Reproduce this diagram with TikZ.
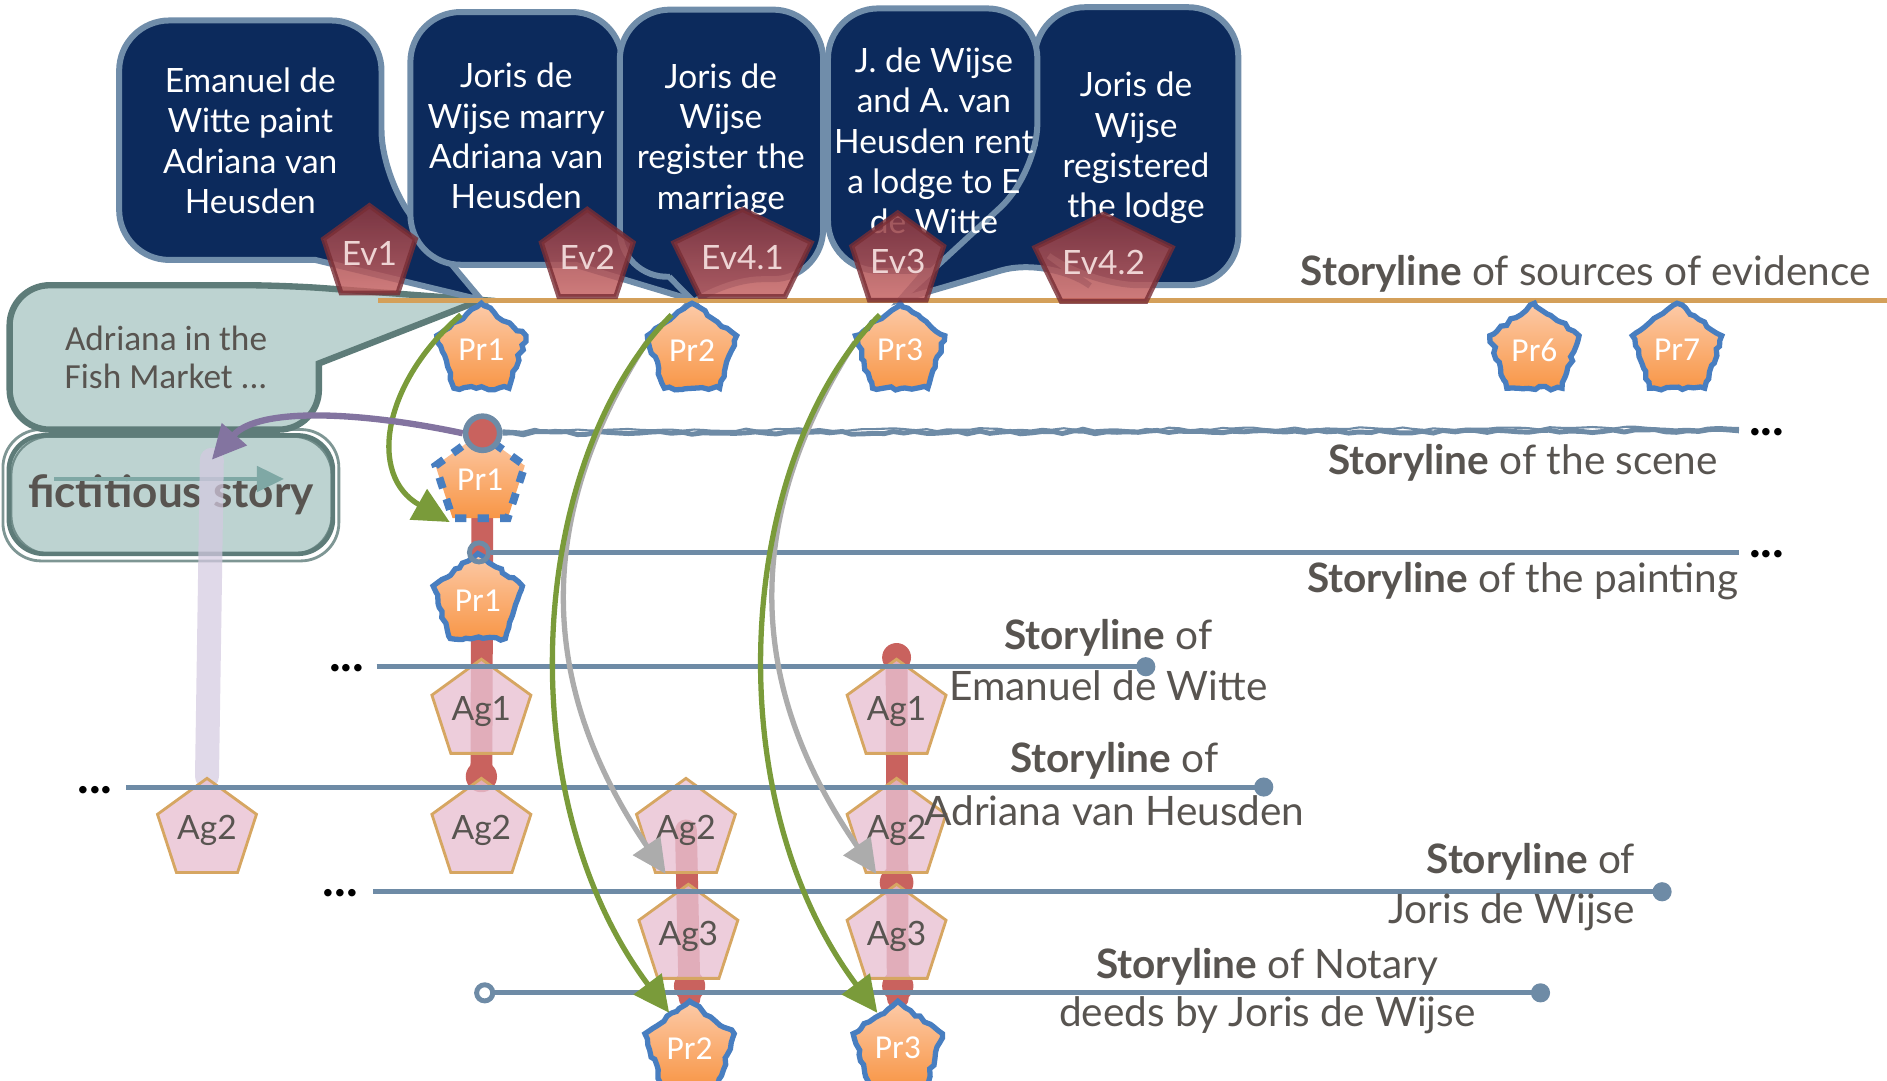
\documentclass[tikz,border=0pt]{standalone}
\usepackage{graphicx}
\usepackage{fontspec}
\setmainfont{Lato}
\newfontfamily\prfont{Carlito}
\usetikzlibrary{positioning}
\usetikzlibrary{shapes.geometric}
\usetikzlibrary{arrows.meta}
\usetikzlibrary{decorations.pathmorphing}
\usetikzlibrary{backgrounds}
\usetikzlibrary{calc}

\definecolor{navy}{RGB}{12,42,92}
\definecolor{cborder}{RGB}{112,141,170}
\definecolor{orangeline}{RGB}{212,160,90}
\definecolor{sblue}{RGB}{110,139,166}
\definecolor{textgrey}{RGB}{88,84,80}
\definecolor{evtop}{RGB}{140,55,62}
\definecolor{evbot}{RGB}{198,100,100}
\definecolor{evborder}{RGB}{120,45,52}
\definecolor{evtext}{RGB}{238,212,212}
\definecolor{agpink}{RGB}{232,192,210}
\definecolor{agborder}{RGB}{214,166,98}
\definecolor{prtop}{RGB}{252,202,168}
\definecolor{prbot}{RGB}{248,150,70}
\definecolor{prblue}{RGB}{72,126,192}
\definecolor{tealfill}{RGB}{189,211,209}
\definecolor{tealdark}{RGB}{94,124,121}
\definecolor{tealarrow}{RGB}{127,168,165}
\definecolor{redchain}{RGB}{201,98,94}
\definecolor{lavender}{RGB}{212,202,225}
\definecolor{purplearr}{RGB}{131,116,160}
\definecolor{greenarr}{RGB}{122,155,58}
\definecolor{greyarr}{RGB}{172,172,172}

\begin{document}
\begin{tikzpicture}[x=0.012cm, y=-0.012cm,
prnode/.style={regular polygon, regular polygon sides=5, minimum size=0.936cm, inner sep=0pt,
  top color=prtop, bottom color=prbot, draw=prblue, line width=1.5pt,
  decorate, decoration={random steps, segment length=1.6pt, amplitude=0.5pt},
  text=white, font=\prfont\fontsize{9.5}{10}\selectfont},
prdash/.style={regular polygon, regular polygon sides=5, minimum size=0.936cm, inner sep=0pt,
  top color=prtop, bottom color=prbot, draw=prblue, line width=2.2pt, dash pattern=on 3.2pt off 3.2pt,
  text=white, font=\prfont\fontsize{9.5}{10}\selectfont},
agnode/.style={regular polygon, regular polygon sides=5, minimum size=0.888cm, inner sep=0pt,
  fill=agpink, fill opacity=0.8, text opacity=1, draw=agborder, line width=0.8pt,
  text=textgrey, font=\fontsize{9.5}{10}\selectfont},
evnode/.style={regular polygon, regular polygon sides=5, minimum size=0.912cm, inner sep=0pt,
  top color=evtop, bottom color=evbot, fill opacity=0.85, text opacity=1,
  draw=evborder, draw opacity=0.8, line width=1.4pt,
  text=evtext, font=\fontsize{9.5}{10}\selectfont},
ctext/.style={text=white, align=center, font=\fontsize{9.5}{11.4}\selectfont},
cshape/.style={rounded corners=0.5cm, fill=navy, draw=cborder, line width=1.7pt},
fishshape/.style={rounded corners=0.4cm, fill=tealfill, draw=tealdark, line width=1.8pt},
fishtext/.style={text=textgrey, align=center, font=\prfont\fontsize{10}{10.6}\selectfont},
fictbox/.style={minimum width=3.23cm, minimum height=1.18cm, rounded corners=0.35cm, inner sep=0pt,
  fill=tealfill, draw=tealdark, line width=1.3pt,
  text=textgrey, font=\bfseries\fontsize{12.5}{13}\selectfont},
roughedge/.style={draw=tealdark, line width=0.8pt, rounded corners=0.38cm, opacity=0.8},
slabel/.style={text=textgrey, inner sep=0pt, font=\fontsize{11.5}{14}\selectfont},
sline/.style={draw=sblue, line width=1.4pt},
rough/.style={decorate, decoration={random steps, segment length=3pt, amplitude=0.45pt}},
dotend/.style={-{Circle[length=0.19cm]}},
dots/.style={anchor=base, inner sep=0pt, font=\bfseries\fontsize{14}{14}\selectfont},
chain/.style={draw=redchain, line width=6.2pt, line cap=round},
lav/.style={draw=lavender, line width=6.8pt, line cap=round, opacity=0.72},
garrow/.style={draw=greenarr, line width=1.5pt, -{Triangle[length=0.36cm, width=0.34cm]}},
grarrow/.style={draw=greyarr, line width=1.5pt, -{Triangle[length=0.34cm, width=0.32cm]}},
parrow/.style={draw=purplearr, line width=1.8pt, -{Triangle[length=0.34cm, width=0.32cm]}},
tarrow/.style={draw=tealarrow, line width=1.3pt, -{Triangle[length=0.27cm, width=0.25cm]}}
]
\pgfmathsetseed{7}
\useasboundingbox (0,0) rectangle (1568,898);

%Coordinates
\coordinate (srcL) at (314,250);
\coordinate (srcR) at (1568,250);
\coordinate (sceneR) at (1445,358);
\coordinate (paintR) at (1445,459);
\coordinate (witteL) at (313,554);
\coordinate (witteR) at (960,554);
\coordinate (adrL) at (105,654);
\coordinate (adrR) at (1058,654);
\coordinate (jorisL) at (310,741);
\coordinate (jorisR) at (1389,741);
\coordinate (notL) at (394,825);
\coordinate (notR) at (1288,825);
\coordinate (lavtop) at (176,382);
\coordinate (fa) at (45,398);
\coordinate (fb) at (236,398);

%Storyline of sources
\draw[draw=orangeline, line width=1.4pt] (srcL) -- (srcR);

%Nodes
\node[prnode]        (pr1)     at (400,291)     {Pr1};
\node[prnode]        (pr2)     at (575,291)     {Pr2};
\node[prnode]        (pr3)     at (748,291)     {Pr3};
\node[prnode]        (pr6)     at (1275,291)    {Pr6};
\node[prnode]        (pr7)     [right=0.57cm of pr6]   {Pr7};
\node[prdash]        (pr1s)    at (399,399)     {Pr1};
\node[prnode]        (pr1p)    at (397,499)     {Pr1};
\node[prnode]        (pr2n)    at (573,871)     {Pr2};
\node[prnode]        (pr3n)    at (746,871)     {Pr3};

\node[agnode]        (ag2l)    at (172,690)     {Ag2};
\node[agnode]        (ag1a)    at (400,591)     {Ag1};
\node[agnode]        (ag2a)    at (400,690)     {Ag2};
\node[agnode]        (ag2b)    at (570,690)     {Ag2};
\node[agnode]        (ag3b)    at (572,778)     {Ag3};
\node[agnode]        (ag1c)    at (745,591)     {Ag1};
\node[agnode]        (ag2c)    at (745,690)     {Ag2};
\node[agnode]        (ag3c)    at (745,778)     {Ag3};

\node[circle, minimum size=0.34cm, inner sep=0pt, fill=redchain, draw=sblue, line width=1.6pt] (scirc) at (401,360) {};
\node[circle, minimum size=0.19cm, inner sep=0pt, draw=sblue, line width=1.4pt] (pcirc) at (398,459) {};

%Storylines
\draw[sline, rough] (scirc.east) -- (sceneR);
\draw[sline, line width=0.6pt, rough] ([yshift=0.8pt]scirc.east) -- ([yshift=0.8pt]sceneR);
\draw[sline] (pcirc.east) -- (paintR);
\draw[sline, dotend] (witteL) -- (witteR);
\draw[sline, dotend] (adrL) -- (adrR);
\draw[sline, dotend] (jorisL) -- (jorisR);
\draw[sline, {Circle[open, fill=white, length=0.21cm]}-{Circle[length=0.19cm]}] (notL) -- (notR);

%Labels
\node[slabel, anchor=base east] (labsrc)   at (1555,237) {\textbf{Storyline} of sources of evidence};
\node[slabel, anchor=base east] (labscene) at (1428,394) {\textbf{Storyline} of the scene};
\node[slabel, anchor=base east] (labpaint) at (1445,492) {\textbf{Storyline} of the painting};
\node[slabel, anchor=base] (labwa) at (921,540) {\textbf{Storyline} of};
\node[slabel, anchor=base] (labwb) at ([yshift=-0.5cm]labwa.base) {Emanuel de Witte};
\node[slabel, anchor=base] (labaa) at (926,642) {\textbf{Storyline} of};
\node[slabel, anchor=base] (labab) at ([yshift=-0.53cm]labaa.base) {Adriana van Heusden};
\node[slabel, anchor=base east] (labja) at (1359,726) {\textbf{Storyline} of};
\node[slabel, anchor=base east] (labjb) at ([yshift=-0.5cm]labja.base east) {Joris de Wijse};
\node[slabel, anchor=base] (labna) at (1053,813) {\textbf{Storyline} of Notary};
\node[slabel, anchor=base] (labnb) at ([yshift=-0.48cm]labna.base) {deeds by Joris de Wijse};

\node[dots] (dscene) at (1468,362) {...};
\node[dots] (dpaint) at (1468,463) {...};
\node[dots] (dwitte) at (288,558) {...};
\node[dots] (dadr)   at (79,659)   {...};
\node[dots] (djoris) at (283,745) {...};

%Edges
\draw[garrow] (pr1.120) .. controls (318,318) and (305,395) .. (pr1s.corner 3);
\draw[grarrow] (pr2.170) .. controls (450,420) and (440,560) .. (ag2b.245);
\draw[grarrow] (pr3.170) .. controls (623,420) and (613,560) .. (ag2c.245);
\draw[garrow] (pr2.120) .. controls (440,380) and (420,660) .. (pr2n.120);
\draw[garrow] (pr3.120) .. controls (613,380) and (593,660) .. (pr3n.120);
\draw[parrow] (scirc.west) .. controls (300,342) and (215,338) .. (lavtop);

%Callout texts
\node[ctext] (c1) at (208,117) {Emanuel de\\Witte paint\\Adriana van\\Heusden};
\node[ctext] (c2) at (429,113) {Joris de\\Wijse marry\\Adriana van\\Heusden};
\node[ctext] (c3) at (599,116) {Joris de\\Wijse\\register the\\marriage};
\node[ctext] (c4) at (776,117) {J. de Wijse\\and A. van\\Heusden rent\\a lodge to E\\de Witte};
\node[ctext] (c5) at (944,123) {Joris de\\Wijse\\registered\\the lodge};
\node[fishtext] (fish) at (138,297) {Adriana in the\\Fish Market ...};

%Events
\node[evnode] (ev1) at (307,211) {Ev1};
\node[evnode] (ev2) at (488,214) {Ev2};
\node[evnode, xscale=1.5] (ev41) at (617,214) {\scalebox{0.667}[1]{Ev4.1}};
\node[evnode] (ev3) at (746,217) {Ev3};
\node[evnode, xscale=1.5] (ev42) at (917,218) {\scalebox{0.667}[1]{Ev4.2}};

\begin{scope}[on background layer]
%Callout shapes
\path[fishshape] (138,237) -- (236,237) [sharp corners] -- (pr1.north) -- (265,302) [rounded corners=0.4cm] -- (265,357) -- (8,357) -- (8,237) -- cycle;
\path[cshape] (208,17) -- (317,17) -- (317,150) [sharp corners] -- (pr1.north) -- (262,216) [rounded corners=0.5cm] -- (99,216) -- (99,17) -- cycle;
\path[cshape] (429,10) -- (517,10) -- (517,178) [sharp corners] -- (pr2.north) -- (478,220) [rounded corners=0.5cm] -- (341,220) -- (341,10) -- cycle;
\path[cshape] (600,8) -- (684,8) -- (684,232) -- (592,232) [sharp corners] -- (pr2.north) -- (556,230) [rounded corners=0.5cm] -- (515,232) -- (515,8) -- cycle;
\path[cshape] (944,6) -- (1029,6) -- (1029,237) -- (905,237) -- (872,213) [sharp corners] -- (pr3.north) -- (860,120) [rounded corners=0.5cm] -- (860,6) -- cycle;
\path[cshape] (775,7) -- (862,7) -- (862,144) [sharp corners] -- (pr3.north) -- (770,225) [rounded corners=0.5cm] -- (688,225) -- (688,7) -- cycle;
%Fictitious story
\node[fictbox] (fict) at (142,411) {\raisebox{-1pt}{fictitious story}};
\draw[roughedge] ($(fict.north west)+(-3,-3)$) rectangle ($(fict.south east)+(3,4)$);
\draw[roughedge, line width=0.6pt] ($(fict.north west)+(4,3)$) rectangle ($(fict.south east)+(-3,-2)$);
\draw[tarrow] (fa) -- (fb);
\draw[lav] (ag2l.north) -- (lavtop);
%Chains
\draw[chain] (scirc.center) -- (ag2a.north);
\draw[chain] (ag2b.center) -- (pr2n.north);
\draw[chain] (ag1c.north) -- (pr3n.north);
\fill[redchain] (ag2a.north) circle (13);
\fill[redchain] (ag1c.north) circle (12);
\fill[redchain] (ag3c.north) circle (14);
\fill[redchain] ($(pr2n.north)+(0,-10)$) circle (13);
\fill[redchain] ($(pr3n.north)+(0,-10)$) circle (13);
\end{scope}

\end{tikzpicture}
\end{document}
